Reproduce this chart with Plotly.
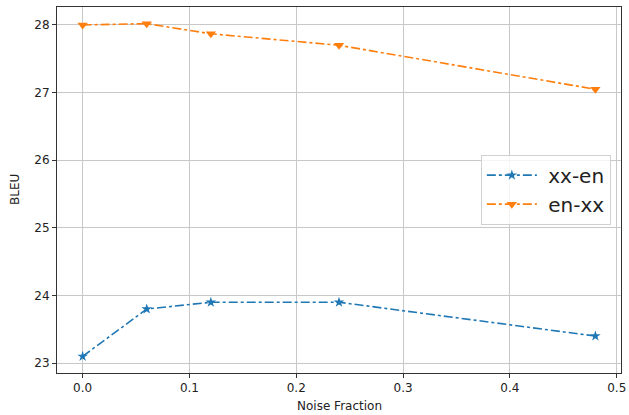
import plotly.graph_objects as go

noise = [0.0, 0.06, 0.12, 0.24, 0.48]
xx_en = [23.1, 23.8, 23.9, 23.9, 23.4]
en_xx = [28.0, 28.02, 27.87, 27.7, 27.05]
series_names = ["xx-en", "en-xx"]

fig = go.Figure()
fig.add_trace(go.Scatter(x=noise, y=xx_en, name="\u00a0" + series_names[0], mode="lines+markers",
                         line=dict(color="#1f77b4", width=1.6, dash="dashdot"),
                         marker=dict(symbol="star", size=8, color="#1f77b4")))
fig.add_trace(go.Scatter(x=noise, y=en_xx, name="\u00a0" + series_names[1], mode="lines+markers",
                         line=dict(color="#ff7f0e", width=1.6, dash="dashdot"),
                         marker=dict(symbol="triangle-down", size=9, color="#ff7f0e")))

axis_common = dict(showline=True, linecolor="#333333", linewidth=1, mirror=True,
                   ticks="outside", ticklen=4, tickcolor="#333333", automargin=False,
                   showgrid=True, gridcolor="#c8c8c8", gridwidth=1, zeroline=False,
                   tickfont=dict(family="DejaVu Sans", size=12, color="#222222"))
fig.update_layout(
    width=629, height=415, plot_bgcolor="white", paper_bgcolor="white",
    margin=dict(l=57, r=8, t=7, b=42, autoexpand=False),
    font=dict(family="DejaVu Sans", color="#222222"),
    xaxis=dict(range=[-0.024, 0.504], tickvals=[0, 0.1, 0.2, 0.3, 0.4, 0.5],
               ticktext=["0.0", "0.1", "0.2", "0.3", "0.4", "0.5"], **axis_common),
    yaxis=dict(range=[22.854, 28.266], tickvals=[23, 24, 25, 26, 27, 28], **axis_common),
    legend=dict(x=0.982, y=0.501, xanchor="right", yanchor="middle",
                font=dict(size=20, family="DejaVu Sans"), bgcolor="rgba(255,255,255,0.8)",
                bordercolor="#d0d0d0", borderwidth=1, itemwidth=50, tracegroupgap=0),
    annotations=[
        dict(text="Noise Fraction", x=0.5, y=0, xref="paper", yref="paper",
             xanchor="center", yanchor="bottom", yshift=-42, showarrow=False,
             font=dict(size=12, family="DejaVu Sans", color="#222222")),
        dict(text="BLEU", x=0, y=0.5, xref="paper", yref="paper", textangle=-90,
             xanchor="center", yanchor="middle", xshift=-42, showarrow=False,
             font=dict(size=12, family="DejaVu Sans", color="#222222")),
    ],
)
fig.write_html("out.html", config={"displayModeBar": False},
               post_script="document.body.style.margin='0';document.body.style.padding='0';document.body.style.overflow='hidden';")
